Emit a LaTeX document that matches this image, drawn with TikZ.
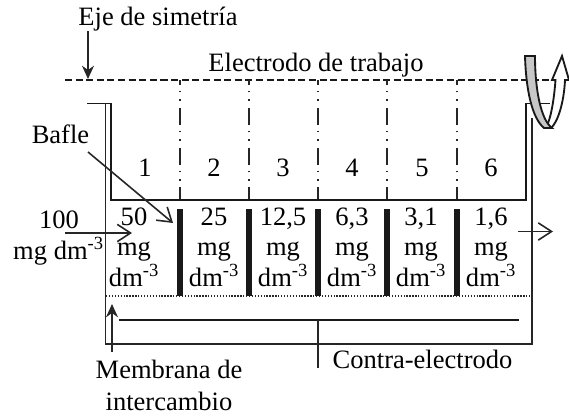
\documentclass[tikz,border=0pt]{standalone}
\usepackage{fontspec}
\setmainfont{Liberation Serif}
\usepackage{tikz}
\usetikzlibrary{arrows.meta}
\tikzset{
  txt/.style={inner sep=0pt, anchor=base, font=\fontsize{20}{24}\selectfont},
  wall/.style={color=black!90, line width=1.4pt},
  thin wall/.style={color=black!85, line width=1.2pt},
  bafle/.style={color=black!90, line width=3.8pt},
  openarrow/.style={color=black!85, line width=1.2pt, -{Straight Barb[length=10pt,width=13pt,line width=1.2pt]}},
  fullarrow/.style={color=black!85, line width=1.2pt, -{Stealth[length=10pt,width=9pt]}},
}
\begin{document}
\begin{tikzpicture}[x=0.0265cm, y=-0.0265cm]
\useasboundingbox (0,0) rectangle (569,416);
%%%%% Eje y electrodo %%%%%
\draw[wall, dash pattern=on 5.3pt off 2.7pt] (65,80)--(569,80);
\foreach \i in {180,249,318,387,457}{
\draw[thin wall, dash pattern=on 12.8pt off 4.5pt on 1.1pt off 5.3pt on 1.1pt off 5.2pt, dash phase=9pt] (\i,80)--(\i,200);
}
\draw[wall] (87,103.5)--(111,103.5)--(111,200)--(526,200)--(526,103.5)--(550,103.5);
%%%%% Celda %%%%%
\draw[thin wall] (105.5,103.5)--(105.5,344)--(532,344)--(532,118);
\draw[thin wall, dash pattern=on 1pt off 1.2pt] (106,296)--(531,296);
\foreach \i in {180,249,318,387,457}{
\draw[bafle] (\i,209)--(\i,296);
}
%%%%% Contra-electrodo %%%%%
\coordinate (ctra) at (318,320);
\coordinate (ctrb) at (318,368);
\draw[wall] (119,320)--(519,320);
\draw[thin wall] (ctra)--(ctrb);
\node[txt] (contra) at (422.5,368) {Contra-electrodo};
%%%%% Textos %%%%%
\foreach \n/\x/\t in {a/145/1,b/214/2,c/283/3,d/352/4,e/422/5,f/491/6}{
\node[txt] (num\n) at (\x,176) {\t};
}
\foreach \n/\x/\t in {a/134/50,b/214/25,c/283/{12,5},d/352/{6,3},e/421/{3,1},f/491/{1,6}}{
\node[txt] (con\n) at (\x,225) {\t};
\node[txt] (mg\n) at (\x,255) {mg};
\node[txt] (dm\n) at (\x,286) {dm\textsuperscript{-3}};
}
\node[txt] (eje) at (158,26) {Eje de simetría};
\node[txt] (electrodo) at (316,72) {Electrodo de trabajo};
\node[txt] (baflelbl) at (60.5,143) {Bafle};
\node[txt] (cien) at (59,228) {100};
\node[txt] (mgdm) at (58.5,259) {mg dm\textsuperscript{-3}};
\node[txt] (membrana) at (169,378) {Membrana de};
\node[txt] (inter) at (169,410) {intercambio};
%%%%% Flechas %%%%%
\coordinate (ejefin) at (88,79);
\coordinate (ejeini) at (88,31);
\coordinate (bafleini) at (88,152);
\coordinate (baflefin) at (173,223);
\coordinate (entini) at (65,233);
\coordinate (entfin) at (132,233);
\coordinate (salini) at (518,231.5);
\coordinate (salfin) at (553,231.5);
\coordinate (memini) at (112,352);
\coordinate (memfin) at (112,304);
\draw[fullarrow] (ejeini)--(ejefin);
\draw[fullarrow] (memini)--(memfin);
\draw[openarrow] (bafleini)--(baflefin);
\draw[openarrow] (entini)--(entfin);
\draw[openarrow] (salini)--(salfin);
%%%%% Giro %%%%%
\draw[wall, fill=white] (546,128) .. controls (551,118) and (554,100) .. (555.5,80)--(552,80)--(562,56)--(569,80)--(565,80) .. controls (564,102) and (558,122) .. (551,128)--cycle;
\draw[wall, fill=black!22] (525,56)--(535,56) .. controls (535,90) and (541,120) .. (552,128)--(544,128) .. controls (532,118) and (526,90) .. (525,56)--cycle;
\end{tikzpicture}
\end{document}
